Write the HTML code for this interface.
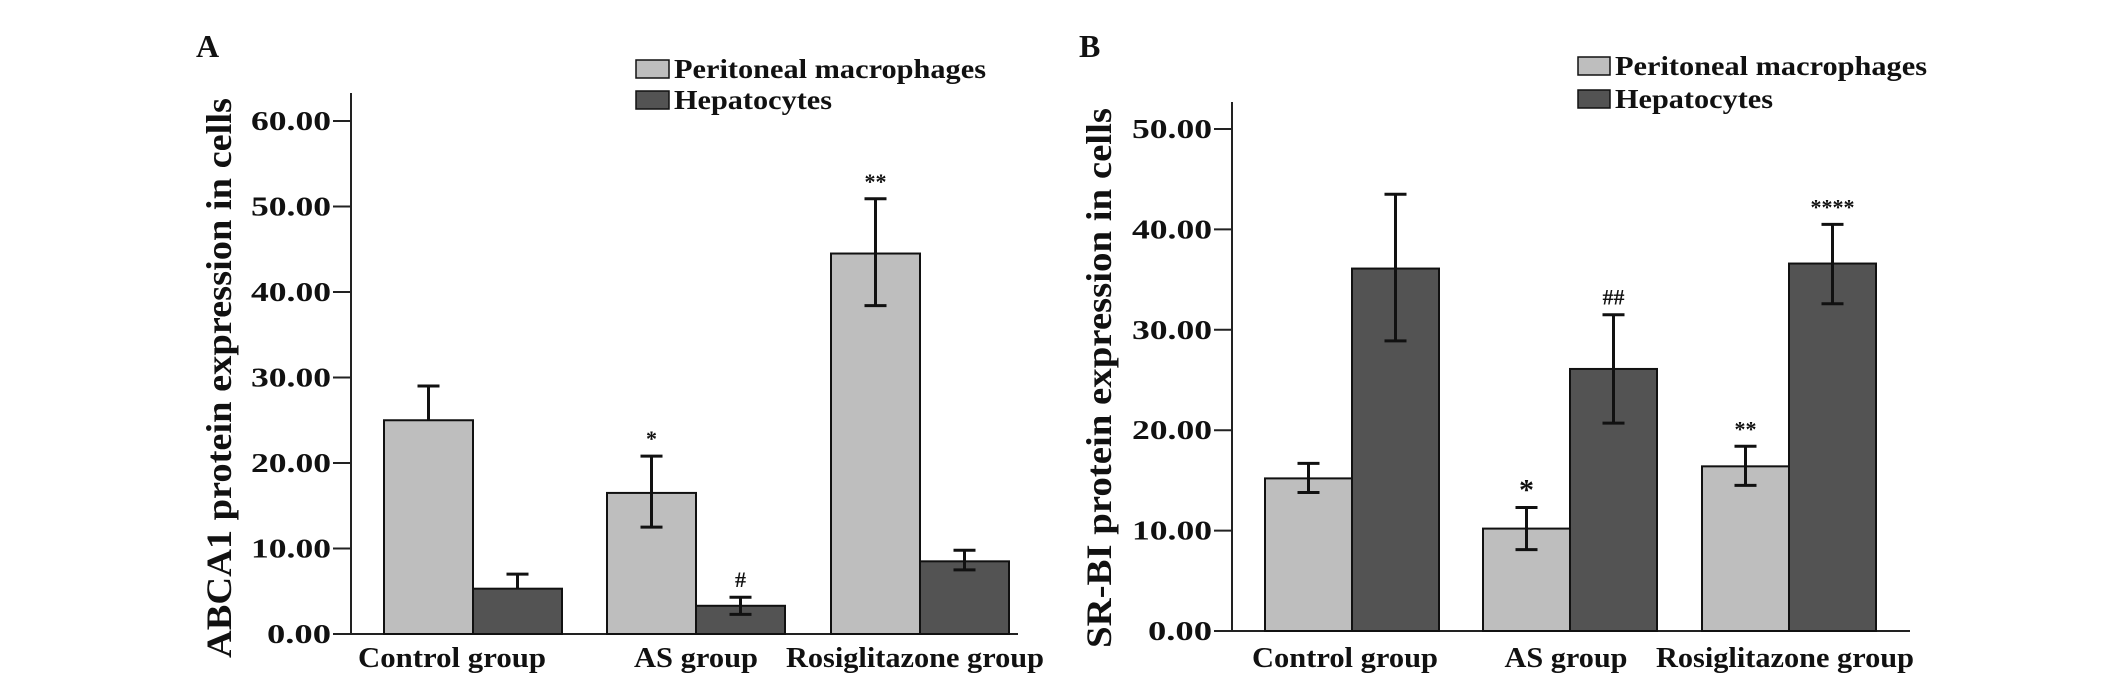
<!DOCTYPE html>
<html><head><meta charset="utf-8"><style>
html,body{margin:0;padding:0;background:#fff;}
svg{display:block;}
text{font-family:"Liberation Serif",serif;font-weight:bold;fill:#111;}
</style></head><body>
<svg id="fig" width="2126" height="693" viewBox="0 0 2126 693" xmlns="http://www.w3.org/2000/svg"></svg>
<script>
const categories = ["Control group", "AS group", "Rosiglitazone group"];
const seriesNames = ["Peritoneal macrophages", "Hepatocytes"];
// Panel A: ABCA1
const aPM = [25.0, 16.5, 44.5];
const aPMLo = [25.0, 12.5, 38.4];
const aPMHi = [29.0, 20.8, 50.9];
const aHep = [5.3, 3.3, 8.5];
const aHepLo = [5.3, 2.3, 7.5];
const aHepHi = [7.0, 4.3, 9.8];
const aTicks = ["0.00","10.00","20.00","30.00","40.00","50.00","60.00"];
const aPMMarks = ["", "*", "**"];
const aHepMarks = ["", "#", ""];
// Panel B: SR-BI
const bPM = [15.2, 10.2, 16.4];
const bPMLo = [13.8, 8.1, 14.5];
const bPMHi = [16.7, 12.3, 18.4];
const bHep = [36.1, 26.1, 36.6];
const bHepLo = [28.9, 20.7, 32.6];
const bHepHi = [43.5, 31.5, 40.5];
const bTicks = ["0.00","10.00","20.00","30.00","40.00","50.00"];
const bPMMarks = ["", "*", "**"];
const bHepMarks = ["", "##", "****"];

const NS = "http://www.w3.org/2000/svg";
const svg = document.getElementById("fig");
function mk(tag, attrs, parent) {
  const e = document.createElementNS(NS, tag);
  for (const k in attrs) e.setAttribute(k, attrs[k]);
  (parent || svg).appendChild(e);
  return e;
}

function panel(cfg) {
  const g = mk("g", {});
  
  
  const y = v => cfg.y0 - v * cfg.pxPerUnit;
  const L = mk("text", {x: cfg.letterX, y: 57, "font-size": 32}, g);
  L.textContent = cfg.letter;
  
  
  const ya = mk("line", {x1: cfg.axisX, y1: cfg.axisTop, x2: cfg.axisX, y2: cfg.y0, stroke: "#222", "stroke-width": 2}, g);
  
  
  const xa = mk("line", {x1: cfg.axisX - 18, y1: cfg.y0, x2: cfg.axisRight, y2: cfg.y0, stroke: "#222", "stroke-width": 2}, g);
  
  
  cfg.ticks.forEach(t => {
    const yy = y(parseFloat(t));
    const tl = mk("line", {x1: cfg.axisX - 18, y1: yy, x2: cfg.axisX, y2: yy, stroke: "#222", "stroke-width": 2}, g);
    
    
    const tx = mk("text", {x: cfg.axisX - 20, y: yy + 9, "font-size": 27, "text-anchor": "end", textLength: t.length * 16, lengthAdjust: "spacingAndGlyphs"}, g);
    tx.textContent = t;
    
    
  });
  const yt = mk("text", {x: 0, y: 0, "font-size": 36, "text-anchor": "middle", transform: `translate(${cfg.titleX},378) rotate(-90)`, textLength: cfg.titleLen, lengthAdjust: "spacingAndGlyphs"}, g);
  yt.textContent = cfg.title;
  
  
  const series = [
    {v: cfg.pm, lo: cfg.pmLo, hi: cfg.pmHi, marks: cfg.pmMarks, fill: "#bebebe", off: 0, nm: "bar-macrophages"},
    {v: cfg.hep, lo: cfg.hepLo, hi: cfg.hepHi, marks: cfg.hepMarks, fill: "#535353", off: 1, nm: "bar-hepatocytes"}
  ];
  categories.forEach((c, i) => {
    const gx = cfg.groupX[i];
    series.forEach(s => {
      const x0 = gx + s.off * cfg.barW;
      const top = y(s.v[i]);
      const r = mk("rect", {x: x0, y: top, width: cfg.barW, height: cfg.y0 - top, fill: s.fill, stroke: "#111", "stroke-width": 2}, g);
      
      
      const cx = x0 + cfg.barW / 2;
      const eh = y(s.hi[i]), el = y(s.lo[i]);
      const eg = mk("g", {stroke: "#111", "stroke-width": 3}, g);
      
      
      mk("line", {x1: cx, y1: eh, x2: cx, y2: el}, eg);
      mk("line", {x1: cx - 11, y1: eh, x2: cx + 11, y2: eh}, eg);
      if (s.lo[i] < s.v[i]) mk("line", {x1: cx - 11, y1: el, x2: cx + 11, y2: el}, eg);
      if (s.marks[i]) {
        const big = s.marks[i] === "*" && cfg.bigStar;
        const m = mk("text", {x: cx, y: eh - (big ? 8 : 10), "font-size": big ? 30 : 22, "font-weight": "normal", "text-anchor": "middle"}, g);
        m.textContent = s.marks[i];
        
        
      }
    });
    const lx = mk("text", {x: gx + cfg.barW + cfg.labelShift[i], y: 667, "font-size": 29, "text-anchor": "middle", textLength: cfg.labelLen[i], lengthAdjust: "spacingAndGlyphs"}, g);
    lx.textContent = c;
    
    
  });
  seriesNames.forEach((n, k) => {
    const ly = cfg.legY[k];
    const lg = mk("g", {}, g);
    
    
    mk("rect", {x: cfg.legX, y: ly, width: cfg.legBoxW, height: 18, fill: k ? "#535353" : "#bebebe", stroke: "#111", "stroke-width": 1.5}, lg);
    const t = mk("text", {x: cfg.legX + cfg.legBoxW + 5, y: ly + 18, "font-size": 27, textLength: k ? 158 : 312, lengthAdjust: "spacingAndGlyphs"}, lg);
    t.textContent = n;
  });
}

panel({name: "panel-a-abca1", letter: "A", letterX: 196, axisX: 351, axisTop: 93, axisRight: 1018, y0: 634, pxPerUnit: 8.55,
  ticks: aTicks, title: "ABCA1 protein expression in cells", titleX: 231, titleLen: 560,
  pm: aPM, pmLo: aPMLo, pmHi: aPMHi, pmMarks: aPMMarks, hep: aHep, hepLo: aHepLo, hepHi: aHepHi, hepMarks: aHepMarks,
  groupX: [384, 607, 831], barW: 89, labelShift: [-21, 0, -5], labelLen: [188, 124, 258],
  legX: 636, legBoxW: 33, legY: [60, 91], bigStar: false});
panel({name: "panel-b-srbi", letter: "B", letterX: 1079, axisX: 1232, axisTop: 102, axisRight: 1910, y0: 631, pxPerUnit: 10.04,
  ticks: bTicks, title: "SR-BI protein expression in cells", titleX: 1111, titleLen: 540,
  pm: bPM, pmLo: bPMLo, pmHi: bPMHi, pmMarks: bPMMarks, hep: bHep, hepLo: bHepLo, hepHi: bHepHi, hepMarks: bHepMarks,
  groupX: [1265, 1483, 1702], barW: 87, labelShift: [-7, -4, -4], labelLen: [186, 123, 258],
  legX: 1578, legBoxW: 32, legY: [57, 90], bigStar: true});
</script>
</body></html>
